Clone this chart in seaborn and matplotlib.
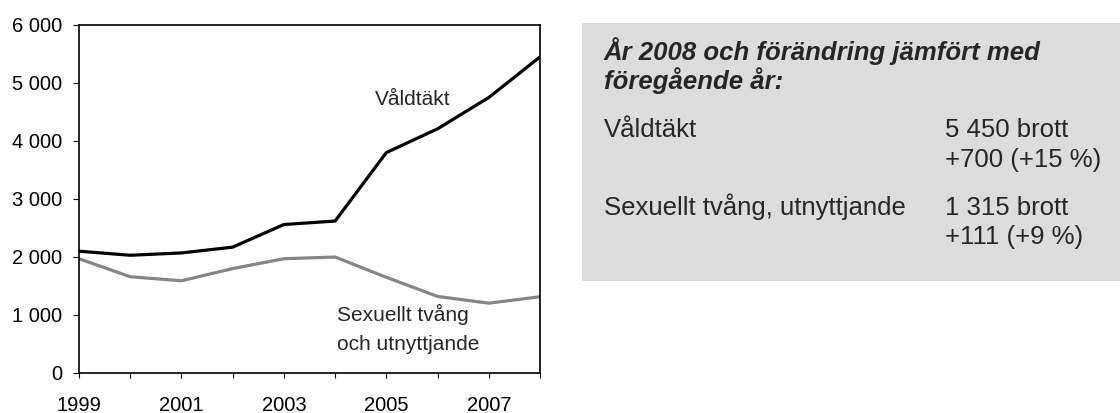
import matplotlib
matplotlib.use("Agg")
import matplotlib.pyplot as plt
import seaborn as sns
import pandas as pd
from matplotlib.patches import Rectangle
from matplotlib.ticker import FuncFormatter

years = [1999, 2000, 2001, 2002, 2003, 2004, 2005, 2006, 2007, 2008]
valdtakt = [2100, 2030, 2070, 2170, 2560, 2620, 3800, 4210, 4750, 5450]
sexuellt = [1970, 1660, 1590, 1800, 1970, 2000, 1650, 1320, 1204, 1315]
series_names = ["Våldtäkt", "Sexuellt tvång och utnyttjande"]
yticks = [0, 1000, 2000, 3000, 4000, 5000, 6000]
xtick_labels = ["1999", "", "2001", "", "2003", "", "2005", "", "2007", ""]

box_title = ["År 2008 och förändring jämfört med", "föregående år:"]
box_rows = [("Våldtäkt", "5 450 brott", "+700 (+15 %)"),
            ("Sexuellt tvång, utnyttjande", "1 315 brott", "+111 (+9 %)")]

sns.set_style("white")
plt.rcParams["font.family"] = ["Liberation Sans", "DejaVu Sans"]

df = pd.DataFrame({
    "year": years * 2,
    "value": valdtakt + sexuellt,
    "serie": [series_names[0]] * len(years) + [series_names[1]] * len(years),
})

W, H = 1120, 413
fig = plt.figure(figsize=(W / 100, H / 100), dpi=100)

def fx(px):
    return px / W

def fy(py):
    return 1 - py / H

# grey info box
fig.patches.append(Rectangle((fx(582), fy(281)), fx(1120) - fx(582), fy(23) - fy(281),
                             transform=fig.transFigure, facecolor="#dcdcdc",
                             edgecolor="none", zorder=0))

ax = fig.add_axes([fx(79), fy(373), fx(540) - fx(79), fy(25) - fy(373)])
sns.lineplot(data=df, x="year", y="value", hue="serie",
             palette={series_names[0]: "#000000", series_names[1]: "#858585"},
             linewidth=2.3, ax=ax, legend=False)

ax.set_xlim(years[0], years[-1])
ax.set_ylim(yticks[0], yticks[-1])
ax.set_xticks(years)
ax.set_xticklabels(xtick_labels)
ax.set_yticks(yticks)
ax.yaxis.set_major_formatter(FuncFormatter(lambda v, p: f"{int(v):,}".replace(",", " ")))
ax.set_xlabel("")
ax.set_ylabel("")
for s in ax.spines.values():
    s.set_visible(True)
    s.set_color("black")
    s.set_linewidth(1.2)
ax.tick_params(axis="x", direction="out", length=3.6, width=0.8, pad=13,
               labelsize=14.5, colors="black", bottom=True)
ax.tick_params(axis="y", direction="out", length=4.3, width=0.8, pad=8,
               labelsize=14.5, colors="black", left=True)
ax.grid(False)

ax.text(2004.78, 4617, "Våldtäkt", fontsize=15, va="baseline", ha="left")
ax.text(2004.04, 899, "Sexuellt tvång", fontsize=15, va="baseline", ha="left")
ax.text(2004.04, 398, "och utnyttjande", fontsize=15, va="baseline", ha="left")

# box texts
fs = 18.5
fig.text(fx(604), fy(60), box_title[0], fontsize=fs, fontweight="bold",
         fontstyle="italic", va="baseline", ha="left")
fig.text(fx(604), fy(89), box_title[1], fontsize=fs, fontweight="bold",
         fontstyle="italic", va="baseline", ha="left")
row_y = [(137, 167), (215, 244)]
for (name, v1, v2), (y1, y2) in zip(box_rows, row_y):
    fig.text(fx(604), fy(y1), name, fontsize=fs, va="baseline", ha="left")
    fig.text(fx(945), fy(y1), v1, fontsize=fs, va="baseline", ha="left")
    fig.text(fx(945), fy(y2), v2, fontsize=fs, va="baseline", ha="left")

fig.savefig("out.png", dpi=100)
